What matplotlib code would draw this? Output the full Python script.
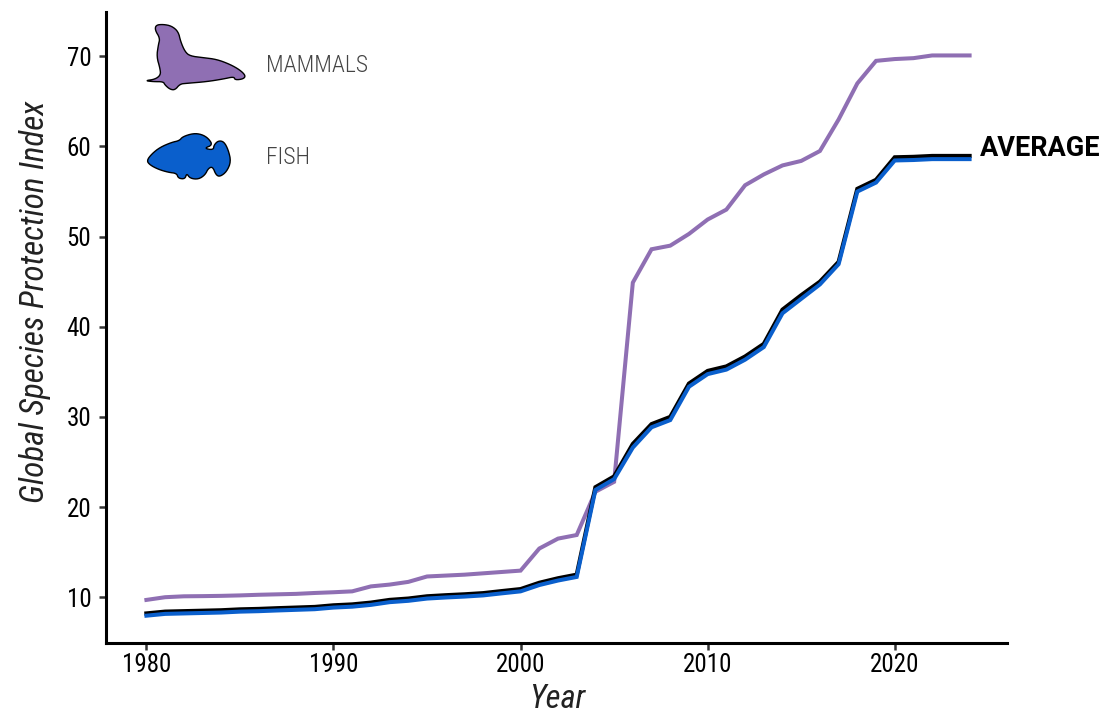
import matplotlib
matplotlib.use("Agg")
import matplotlib.pyplot as plt
from matplotlib.patches import Polygon
from matplotlib.transforms import Affine2D
import numpy as np

years = list(range(1980, 2025))
mammals = [9.7, 10.0, 10.1, 10.12, 10.15, 10.2, 10.27, 10.32, 10.37, 10.47, 10.55, 10.65,
           11.2, 11.4, 11.7, 12.3, 12.4, 12.5, 12.65, 12.8, 12.95, 15.4, 16.5, 16.9,
           21.7, 22.8, 44.9, 48.6, 49.0, 50.3, 51.9, 53.0, 55.7, 56.9, 57.9, 58.4, 59.5,
           63.0, 67.0, 69.5, 69.7, 69.8, 70.1, 70.1, 70.1]
average = [8.2, 8.4, 8.45, 8.5, 8.55, 8.65, 8.7, 8.78, 8.85, 8.92, 9.1, 9.2,
           9.4, 9.7, 9.85, 10.1, 10.22, 10.32, 10.45, 10.68, 10.9, 11.6, 12.1, 12.5,
           22.2, 23.4, 27.0, 29.2, 30.0, 33.7, 35.1, 35.6, 36.7, 38.1, 41.9, 43.5, 45.0,
           47.2, 55.3, 56.3, 58.8, 58.85, 58.95, 58.95, 58.95]
fish = [7.95, 8.15, 8.2, 8.25, 8.3, 8.4, 8.45, 8.53, 8.6, 8.67, 8.85, 8.95,
        9.15, 9.45, 9.6, 9.85, 9.97, 10.07, 10.2, 10.43, 10.65, 11.35, 11.85, 12.25,
        21.9, 23.1, 26.6, 28.85, 29.65, 33.35, 34.75, 35.25, 36.35, 37.75, 41.5, 43.1, 44.7,
        46.95, 55.0, 56.0, 58.45, 58.5, 58.6, 58.6, 58.6]
x_ticks = [1980, 1990, 2000, 2010, 2020]
y_ticks = [10, 20, 30, 40, 50, 60, 70]

PURPLE = "#8F6FB3"
BLUE = "#0A5FCC"

plt.rcParams["font.family"] = ["Roboto Condensed", "DejaVu Sans"]

W, H = 1101, 714
fig = plt.figure(figsize=(W / 100, H / 100), dpi=100)
L, R, T, B = 106, 1007, 12, 643
ax = fig.add_axes([L / W, 1 - B / H, (R - L) / W, (B - T) / H])

ax.plot(years, mammals, color=PURPLE, lw=2.9, solid_joinstyle="miter")
ax.plot(years, average, color="black", lw=3.0, solid_joinstyle="miter")
ax.plot(years, fish, color=BLUE, lw=2.9, solid_joinstyle="miter")

ax.set_xlim(1977.84, 2026.0)
ax.set_ylim(4.92, 74.92)
ax.set_xticks(x_ticks)
ax.set_yticks(y_ticks)
for s in ("top", "right"):
    ax.spines[s].set_visible(False)
for s in ("left", "bottom"):
    ax.spines[s].set_linewidth(2.2)
ax.tick_params(length=5, width=1.8, color="#333333", labelsize=18, labelcolor="black")
ax.tick_params(axis="x", pad=2)
ax.tick_params(axis="y", pad=5.5)

fig.text(557 / W, 1 - 699 / H, "Year", fontsize=23.5, style="italic", color="#222222", ha="center", va="center")
fig.text(35 / W, 1 - 302 / H, "Global Species Protection Index", fontsize=23.8, style="italic", color="#222222",
         ha="center", va="center", rotation=90)

fig.text(980 / W, 1 - 148 / H, "AVERAGE", va="center", ha="left",
         fontsize=19.5, fontweight="bold", family=["Roboto", "DejaVu Sans"], color="black")
for label, ypx in (("MAMMALS", 65), ("FISH", 157)):
    fig.text(266 / W, 1 - ypx / H, label, va="center", ha="left", fontsize=17,
             color="#444444", fontweight="light")

seal = [(45,212),(75,208),(92,195),(90,175),(80,140),(85,105),(90,85),(75,60),(78,45),(100,43),(125,48),
        (145,65),(152,95),(165,125),(180,138),(220,143),(260,148),(300,163),(330,180),(347,197),(340,207),
        (315,210),(312,200),(280,207),(230,215),(170,220),(150,222),(135,240),(120,238),(105,225),(100,215),(70,215)]
fish_shape = [(50,452),(65,432),(90,412),(125,397),(148,392),(158,380),(190,370),(215,373),(235,385),(248,405),
              (222,415),(250,420),(252,405),(265,392),(282,395),(295,420),(303,455),(290,485),(270,500),(258,495),
              (248,470),(235,475),(225,495),(205,508),(180,505),(170,490),(165,507),(145,505),(140,490),(115,487),
              (85,478),(60,465)]


def smooth(points, rounds=2):
    pts = np.array(points, float)
    for _ in range(rounds):
        nxt = np.roll(pts, -1, axis=0)
        pts = np.column_stack([0.75 * pts + 0.25 * nxt, 0.25 * pts + 0.75 * nxt]).reshape(-1, 2)
    return pts


px = Affine2D().scale(1 / 3).translate(130, 10).scale(1, -1).translate(0, H)
for shape, col in ((seal, PURPLE), (fish_shape, BLUE)):
    fig.add_artist(Polygon(smooth(shape), closed=True, facecolor=col, edgecolor="black", lw=1.0,
                           transform=px, joinstyle="round"))

fig.savefig("out.png", dpi=100)
